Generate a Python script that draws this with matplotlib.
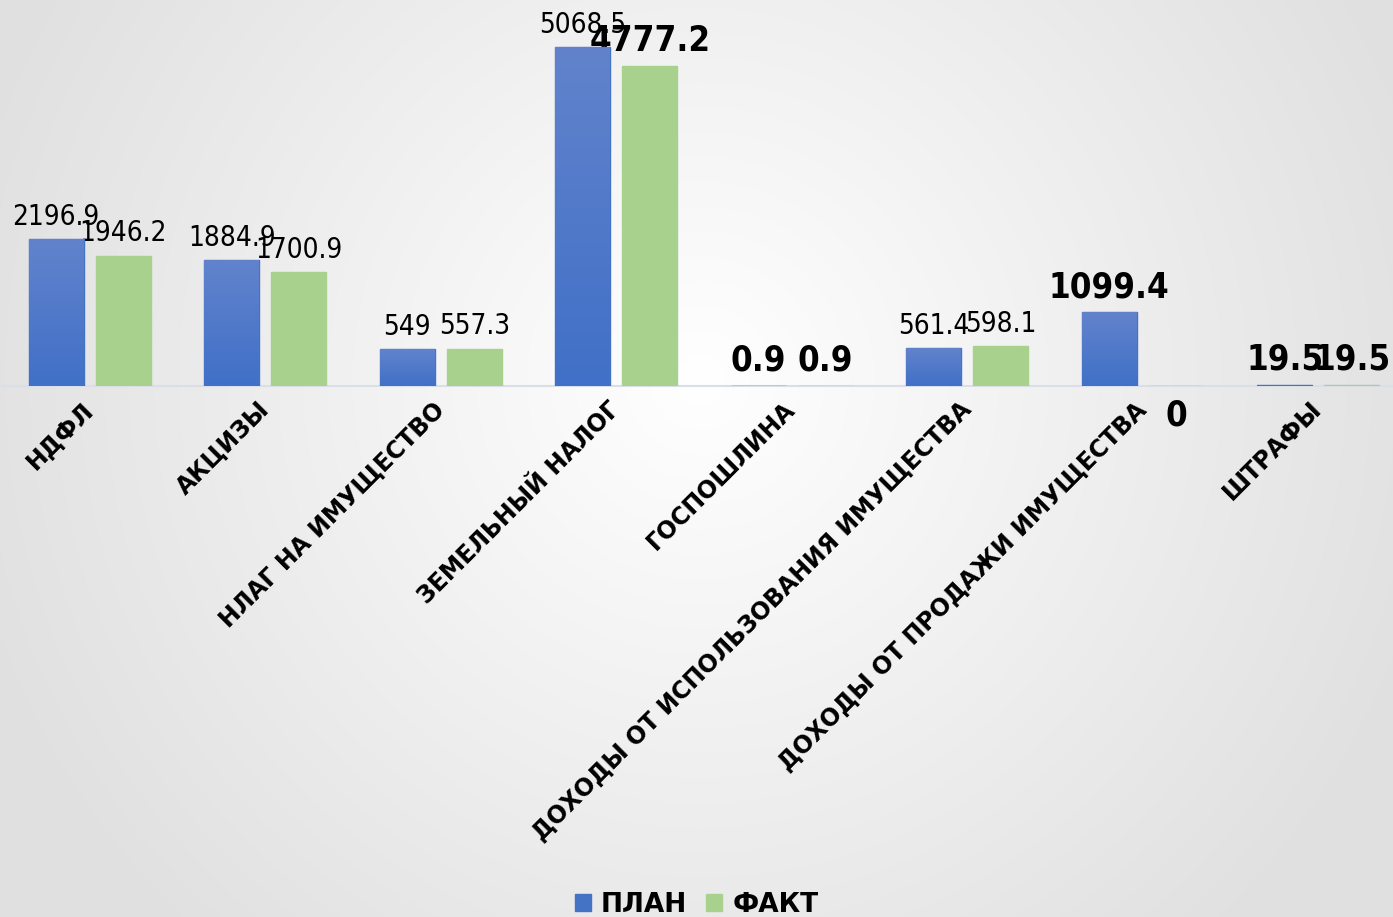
import numpy as np
import matplotlib.pyplot as plt
from matplotlib.patches import Patch

# данные
categories = ["НДФЛ", "АКЦИЗЫ", "НЛАГ НА ИМУЩЕСТВО", "ЗЕМЕЛЬНЫЙ НАЛОГ", "ГОСПОШЛИНА",
              "ДОХОДЫ ОТ ИСПОЛЬЗОВАНИЯ ИМУЩЕСТВА", "ДОХОДЫ ОТ ПРОДАЖИ ИМУЩЕСТВА", "ШТРАФЫ"]
plan = [2196.9, 1884.9, 549, 5068.5, 0.9, 561.4, 1099.4, 19.5]
fact = [1946.2, 1700.9, 557.3, 4777.2, 0.9, 598.1, 0, 19.5]
plan_labels = ["2196.9", "1884.9", "549", "5068.5", "0.9", "561.4", "1099.4", "19.5"]
fact_labels = ["1946.2", "1700.9", "557.3", "4777.2", "0.9", "598.1", "0", "19.5"]
plan_bold = [False, False, False, False, True, False, True, True]
fact_bold = [False, False, False, True, True, False, True, True]

W, H = 1393, 917
fig = plt.figure(figsize=(W / 100, H / 100), dpi=100)

# фон - радиальный градиент
bg = fig.add_axes([0, 0, 1, 1], zorder=-10)
yy, xx = np.mgrid[0:H, 0:W]
r = np.sqrt(((xx - 700) / 760.0) ** 2 + ((yy - 380) / 760.0) ** 2)
shade = 1.0 - 0.12 * np.clip(r, 0, 1.0)
bg.imshow(np.dstack([shade, shade, shade]).clip(0, 1), aspect='auto', extent=[0, W, H, 0])
bg.set_axis_off()

ymax = 386 / 0.0669
ax = fig.add_axes([2 / W, (H - 386) / H, 1404 / W, 386 / H])
ax.patch.set_alpha(0)
ax.set_xlim(-0.5, len(categories) - 0.5)
ax.set_ylim(0, ymax)
for s in ["top", "right", "left"]:
    ax.spines[s].set_visible(False)
ax.spines["bottom"].set_color("#d9dee8")
ax.spines["bottom"].set_linewidth(1.5)
ax.spines["bottom"].set_zorder(1)
ax.set_yticks([])

x = np.arange(len(categories))
bw = 0.313
off = 0.191
blue_top = np.array([98, 131, 204]) / 255
blue_bot = np.array([64, 112, 199]) / 255
green = "#a9d18e"

bars_p = ax.bar(x - off, plan, bw, color="#4472c4", edgecolor="#4472c4", linewidth=1.0, zorder=4)
bars_f = ax.bar(x + off, fact, bw, color=green, edgecolor=green, linewidth=1.0, zorder=4)

# градиент для синих столбцов
grad = np.linspace(0, 1, 256)[:, None]
grad_img = blue_top[None, None, :] * (1 - grad[..., None]) + blue_bot[None, None, :] * grad[..., None]
for b in bars_p:
    if b.get_height() < 50:
        continue
    x0, w, h = b.get_x(), b.get_width(), b.get_height()
    im = ax.imshow(grad_img, extent=[x0, x0 + w, 0, h], aspect='auto', zorder=5)
    im.set_clip_path(b)

def put_label(xc, val, txt, bold):
    if bold:
        kw = dict(fontsize=25, fontweight="bold")
    else:
        kw = dict(fontsize=20)
    if val == 0:
        ax.annotate(txt, (xc, 0), xytext=(0, -9), textcoords="offset points",
                    ha="center", va="top", annotation_clip=False, fontstretch="condensed", **kw)
    else:
        ax.annotate(txt, (xc, val), xytext=(0, 6), textcoords="offset points",
                    ha="center", va="bottom", annotation_clip=False, fontstretch="condensed", **kw)

for i in range(len(categories)):
    put_label(x[i] - off, plan[i], plan_labels[i], plan_bold[i])
    put_label(x[i] + off, fact[i], fact_labels[i], fact_bold[i])

ax.set_xticks(x - 0.05)
ax.set_xticklabels(categories, rotation=45, ha="right", rotation_mode="anchor",
                   fontsize=17, fontweight="bold")
ax.tick_params(axis="x", length=0, pad=8)

handles = [Patch(color="#4472c4", label="ПЛАН"), Patch(color=green, label="ФАКТ")]
fig.legend(handles=handles, loc="center", bbox_to_anchor=(0.5, 12 / H), ncol=2, frameon=False,
           prop=dict(size=19, weight="bold"), handlelength=0.6, handleheight=0.6,
           handletextpad=0.4, columnspacing=0.7)

fig.savefig("out.png", dpi=100)
